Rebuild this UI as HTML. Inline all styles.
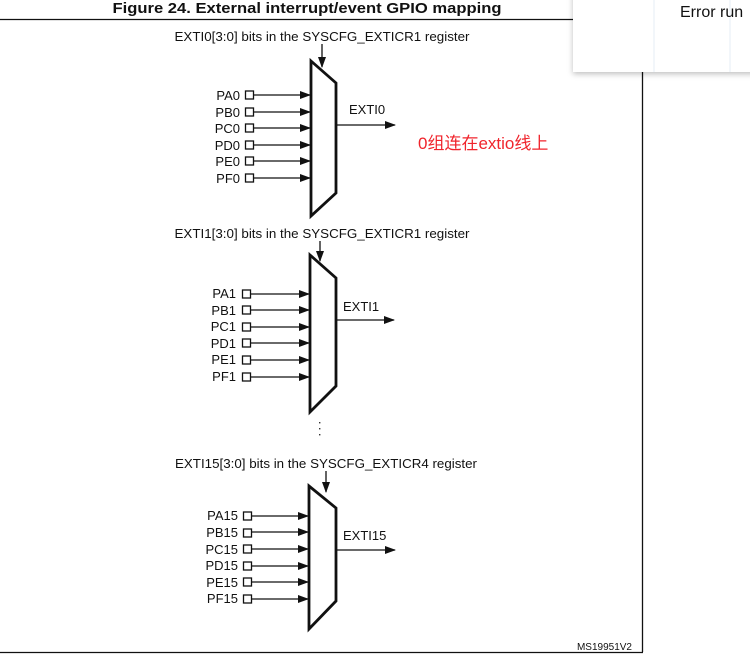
<!DOCTYPE html>
<html><head><meta charset="utf-8"><style>
html,body{margin:0;padding:0;background:#fff;width:750px;height:660px;overflow:hidden}
svg{display:block}
text{font-family:"Liberation Sans",Arial,sans-serif;fill:#111}
</style></head><body>
<svg width="750" height="660" viewBox="0 0 750 660" xmlns="http://www.w3.org/2000/svg">
<defs>
<marker id="ah" markerWidth="11" markerHeight="8" refX="10" refY="4" orient="auto" markerUnits="userSpaceOnUse">
<path d="M0,0 L11,4 L0,8 Z" fill="#111"/>
</marker>
<filter id="sh" x="-10%" y="-20%" width="120%" height="150%"><feDropShadow dx="0" dy="2" stdDeviation="3" flood-color="#000" flood-opacity="0.25"/></filter>
</defs>
<line x1="0" y1="19.5" x2="600" y2="19.5" stroke="#111" stroke-width="1.3"/>
<line x1="642.5" y1="60" x2="642.5" y2="652" stroke="#111" stroke-width="1.3"/>
<line x1="0" y1="652.5" x2="643" y2="652.5" stroke="#111" stroke-width="1.3"/>
<text x="307" y="13" text-anchor="middle" font-size="15" font-weight="bold" textLength="389" lengthAdjust="spacingAndGlyphs">Figure 24. External interrupt/event GPIO mapping</text>

<text x="322" y="41" text-anchor="middle" font-size="13" textLength="295" lengthAdjust="spacingAndGlyphs">EXTI0[3:0] bits in the SYSCFG_EXTICR1 register</text>
<line x1="322" y1="44" x2="322" y2="67" stroke="#111" stroke-width="1.3" marker-end="url(#ah)"/>
<polygon points="311,61 336,83 336,193 311,216" fill="#fff" stroke="#111" stroke-width="2.8"/>
<g font-size="13" text-anchor="end">
<text x="240" y="100">PA0</text><text x="240" y="117">PB0</text><text x="240" y="133">PC0</text><text x="240" y="150">PD0</text><text x="240" y="166">PE0</text><text x="240" y="183">PF0</text>
</g>
<g stroke="#111" stroke-width="1.3" fill="#fff">
<rect x="245.5" y="91" width="8" height="8"/><rect x="245.5" y="108" width="8" height="8"/><rect x="245.5" y="124" width="8" height="8"/><rect x="245.5" y="141" width="8" height="8"/><rect x="245.5" y="157" width="8" height="8"/><rect x="245.5" y="174" width="8" height="8"/>
<line x1="254" y1="95" x2="310" y2="95" marker-end="url(#ah)"/><line x1="254" y1="112" x2="310" y2="112" marker-end="url(#ah)"/><line x1="254" y1="128" x2="310" y2="128" marker-end="url(#ah)"/><line x1="254" y1="145" x2="310" y2="145" marker-end="url(#ah)"/><line x1="254" y1="161" x2="310" y2="161" marker-end="url(#ah)"/><line x1="254" y1="178" x2="310" y2="178" marker-end="url(#ah)"/>
<line x1="337" y1="125" x2="395" y2="125" marker-end="url(#ah)"/>
</g>
<text x="349" y="114" font-size="13">EXTI0</text>
<text x="418" y="149" font-size="17" style="fill:#f0242c;font-family:'Liberation Sans','Noto Sans CJK SC',sans-serif">0组连在extio线上</text>

<text x="322" y="238" text-anchor="middle" font-size="13" textLength="295" lengthAdjust="spacingAndGlyphs">EXTI1[3:0] bits in the SYSCFG_EXTICR1 register</text>
<line x1="320" y1="241" x2="320" y2="261" stroke="#111" stroke-width="1.3" marker-end="url(#ah)"/>
<polygon points="310,255 336,278 336,386 310,412" fill="#fff" stroke="#111" stroke-width="2.8"/>
<g font-size="13" text-anchor="end">
<text x="236" y="298">PA1</text><text x="236" y="315">PB1</text><text x="236" y="331">PC1</text><text x="236" y="348">PD1</text><text x="236" y="364">PE1</text><text x="236" y="381">PF1</text>
</g>
<g stroke="#111" stroke-width="1.3" fill="#fff">
<rect x="242.5" y="290" width="8" height="8"/><rect x="242.5" y="306" width="8" height="8"/><rect x="242.5" y="323" width="8" height="8"/><rect x="242.5" y="339" width="8" height="8"/><rect x="242.5" y="356" width="8" height="8"/><rect x="242.5" y="373" width="8" height="8"/>
<line x1="251" y1="294" x2="309" y2="294" marker-end="url(#ah)"/><line x1="251" y1="310" x2="309" y2="310" marker-end="url(#ah)"/><line x1="251" y1="327" x2="309" y2="327" marker-end="url(#ah)"/><line x1="251" y1="343" x2="309" y2="343" marker-end="url(#ah)"/><line x1="251" y1="360" x2="309" y2="360" marker-end="url(#ah)"/><line x1="251" y1="377" x2="309" y2="377" marker-end="url(#ah)"/>
<line x1="337" y1="320" x2="394" y2="320" marker-end="url(#ah)"/>
</g>
<text x="343" y="311" font-size="13">EXTI1</text>
<g fill="#333"><rect x="319" y="422" width="1.4" height="1.4"/><rect x="319" y="428" width="1.4" height="1.4"/><rect x="319" y="434" width="1.4" height="1.4"/></g>

<text x="326" y="468" text-anchor="middle" font-size="13" textLength="302" lengthAdjust="spacingAndGlyphs">EXTI15[3:0] bits in the SYSCFG_EXTICR4 register</text>
<line x1="326" y1="471" x2="326" y2="492" stroke="#111" stroke-width="1.3" marker-end="url(#ah)"/>
<polygon points="309,486 336,508 336,601 309,629" fill="#fff" stroke="#111" stroke-width="2.8"/>
<g font-size="13" text-anchor="end">
<text x="238" y="520">PA15</text><text x="238" y="537">PB15</text><text x="238" y="554">PC15</text><text x="238" y="570">PD15</text><text x="238" y="587">PE15</text><text x="238" y="603">PF15</text>
</g>
<g stroke="#111" stroke-width="1.3" fill="#fff">
<rect x="243.5" y="512" width="8" height="8"/><rect x="243.5" y="529" width="8" height="8"/><rect x="243.5" y="545" width="8" height="8"/><rect x="243.5" y="562" width="8" height="8"/><rect x="243.5" y="578" width="8" height="8"/><rect x="243.5" y="595" width="8" height="8"/>
<line x1="252" y1="516" x2="308" y2="516" marker-end="url(#ah)"/><line x1="252" y1="532" x2="308" y2="532" marker-end="url(#ah)"/><line x1="252" y1="549" x2="308" y2="549" marker-end="url(#ah)"/><line x1="252" y1="566" x2="308" y2="566" marker-end="url(#ah)"/><line x1="252" y1="582" x2="308" y2="582" marker-end="url(#ah)"/><line x1="252" y1="599" x2="308" y2="599" marker-end="url(#ah)"/>
<line x1="337" y1="550" x2="395" y2="550" marker-end="url(#ah)"/>
</g>
<text x="343" y="540" font-size="13">EXTI15</text>
<text x="632" y="650" text-anchor="end" font-size="10">MS19951V2</text>

<rect x="573" y="-10" width="190" height="82" fill="#fff" filter="url(#sh)"/>
<line x1="654" y1="0" x2="654" y2="72" stroke="#eef2f8" stroke-width="1.5"/>
<line x1="730" y1="0" x2="730" y2="72" stroke="#eef2f8" stroke-width="1.5"/>
<text x="680" y="17" font-size="16" style="fill:#111">Error run</text>
</svg>
</body></html>
